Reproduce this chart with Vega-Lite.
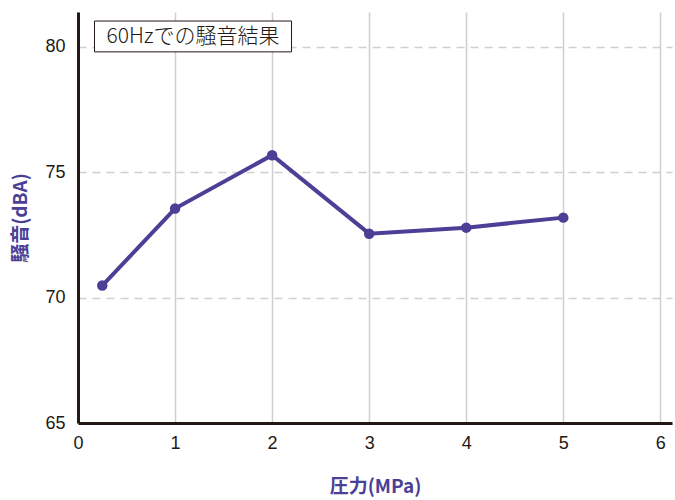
{
  "$schema": "https://vega.github.io/schema/vega-lite/v6.json",
  "width": 594,
  "height": 411,
  "autosize": {"type": "none"},
  "padding": {"left": 78, "top": 12, "right": 3, "bottom": 77},
  "background": "white",
  "config": {
    "view": {"stroke": null},
    "axis": {
      "domainColor": "#231815",
      "domainWidth": 3,
      "ticks": false,
      "labelFont": "Liberation Sans",
      "labelFontSize": 18,
      "labelColor": "#231815",
      "titleFont": "Noto Sans CJK JP",
      "titleFontSize": 19,
      "titleFontWeight": "bold",
      "titleColor": "#4b3f96",
      "gridColor": "#cfcfcf",
      "gridWidth": 1.5
    },
    "axisY": {"gridDash": [8, 6]}
  },
  "layer": [
    {
      "data": {"values": [
        {"pressure": 0.25, "noise": 70.48},
        {"pressure": 1, "noise": 73.55},
        {"pressure": 2, "noise": 75.68},
        {"pressure": 3, "noise": 72.55},
        {"pressure": 4, "noise": 72.79},
        {"pressure": 5, "noise": 73.19}
      ]},
      "mark": {"type": "line", "color": "#4b3f96", "strokeWidth": 4, "point": {"filled": true, "size": 110, "color": "#4b3f96"}},
      "encoding": {
        "x": {"field": "pressure", "type": "quantitative", "scale": {"domain": [0, 6.12], "nice": false, "zero": false},
              "axis": {"values": [0, 1, 2, 3, 4, 5, 6], "format": "d", "title": "圧力(MPa)", "labelPadding": 11, "titlePadding": 25, "labelFlush": false}},
        "y": {"field": "noise", "type": "quantitative", "scale": {"domain": [65, 81.39], "nice": false, "zero": false},
              "axis": {"values": [65, 70, 75, 80], "format": "d", "title": "騒音(dBA)", "labelPadding": 13, "titlePadding": 14, "labelFlush": false}}
      }
    },
    {
      "data": {"values": [{"x1": 0.17, "x2": 2.2, "y1": 79.8, "y2": 81.03}]},
      "mark": {"type": "rect", "fill": "white", "stroke": "#231815", "strokeWidth": 1},
      "encoding": {
        "x": {"field": "x1", "type": "quantitative"},
        "x2": {"field": "x2"},
        "y": {"field": "y1", "type": "quantitative"},
        "y2": {"field": "y2"}
      }
    },
    {
      "data": {"values": [{"x": 1.185, "y": 80.41, "label": "60Hzでの騒音結果"}]},
      "mark": {"type": "text", "font": "Noto Sans CJK JP", "fontSize": 21, "fontWeight": 300, "color": "#231815", "align": "center", "baseline": "middle"},
      "encoding": {
        "x": {"field": "x", "type": "quantitative"},
        "y": {"field": "y", "type": "quantitative"},
        "text": {"field": "label"}
      }
    }
  ]
}
